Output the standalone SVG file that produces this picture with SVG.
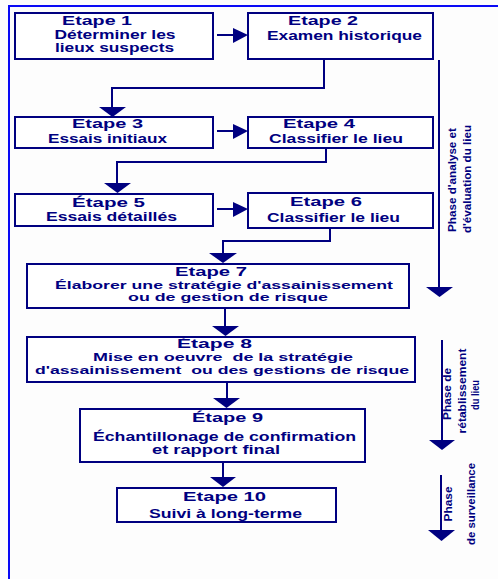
<svg xmlns="http://www.w3.org/2000/svg" width="498" height="579" viewBox="0 0 498 579">
<style>
.box{fill:#ffffff;stroke:#000080;stroke-width:2}
.ln{fill:none;stroke:#000080;stroke-width:2}
.ah{fill:#000080}
.t{font-family:"Liberation Sans",Arial,sans-serif;font-weight:bold;font-size:12px;fill:#000080;text-anchor:middle}
.s{font-size:11.5px}
.p{font-family:"Liberation Sans",Arial,sans-serif;font-weight:bold;font-size:11px;fill:#000080;text-anchor:middle}
</style>
<rect width="498" height="579" fill="#fdfdfd"/>
<g id="frame"><path d="M9,579 V6 H498" fill="none" stroke="#0a0af5" stroke-width="2"/></g>
<g id="connectors">
<path class="ln" d="M217,35 H236"/><polygon class="ah" points="233,28 248,35 233,43"/>
<path class="ln" d="M217,131 H236"/><polygon class="ah" points="233,124 248,131 233,139"/>
<path class="ln" d="M217,209 H236"/><polygon class="ah" points="233,202 248,209 233,217"/>
<path class="ln" d="M324,60 V88 H112 V108"/><polygon class="ah" points="99,107 126,107 112.5,117"/>
<path class="ln" d="M326,149 V162 H117 V184"/><polygon class="ah" points="104,183 131,183 117.5,193"/>
<path class="ln" d="M330,229 V241 H223 V254"/><polygon class="ah" points="209,253 237,253 223,263"/>
<path class="ln" d="M225,309 V327"/><polygon class="ah" points="212,326 239,326 225.5,336"/>
<path class="ln" d="M227,383 V399"/><polygon class="ah" points="213,398 240,398 226.5,408"/>
<path class="ln" d="M223,463 V478"/><polygon class="ah" points="210,477 236,477 223,487"/>
<path class="ln" d="M439,60 V288"/><polygon class="ah" points="426,287 453,287 439.5,297"/>
<path class="ln" d="M442,340 V441"/><polygon class="ah" points="429,440 455,440 442,450"/>
<path class="ln" d="M441,475 V531"/><polygon class="ah" points="428,530 455,530 441.5,541"/>
</g>
<g id="n1"><rect class="box" x="15" y="13" width="198" height="46"/>
<text class="t" x="97" y="25" textLength="70" lengthAdjust="spacingAndGlyphs">Etape 1</text>
<text class="t" x="115" y="39" textLength="121" lengthAdjust="spacingAndGlyphs">Déterminer les</text>
<text class="t" x="114.5" y="52" textLength="119" lengthAdjust="spacingAndGlyphs">lieux suspects</text></g>
<g id="n2"><rect class="box" x="248" y="13" width="185" height="46"/>
<text class="t" x="323" y="25" textLength="70" lengthAdjust="spacingAndGlyphs">Etape 2</text>
<text class="t" x="344.5" y="40" textLength="155" lengthAdjust="spacingAndGlyphs">Examen historique</text></g>
<g id="n3"><rect class="box" x="15" y="117" width="198" height="31"/>
<text class="t" x="107.5" y="128" textLength="71" lengthAdjust="spacingAndGlyphs">Etape 3</text>
<text class="t" x="107.5" y="143" textLength="119" lengthAdjust="spacingAndGlyphs">Essais initiaux</text></g>
<g id="n4"><rect class="box" x="248" y="117" width="185" height="31"/>
<text class="t" x="319" y="128" textLength="72" lengthAdjust="spacingAndGlyphs">Etape 4</text>
<text class="t" x="336" y="143" textLength="134" lengthAdjust="spacingAndGlyphs">Classifier le lieu</text></g>
<g id="n5"><rect class="box" x="15" y="194" width="198" height="32"/>
<text class="t" x="108.5" y="207" textLength="73" lengthAdjust="spacingAndGlyphs">Étape 5</text>
<text class="t" x="111.5" y="221" textLength="131" lengthAdjust="spacingAndGlyphs">Essais détaillés</text></g>
<g id="n6"><rect class="box" x="248" y="193" width="185" height="35"/>
<text class="t" x="326" y="206" textLength="72" lengthAdjust="spacingAndGlyphs">Etape 6</text>
<text class="t" x="333.5" y="222" textLength="133" lengthAdjust="spacingAndGlyphs">Classifier le lieu</text></g>
<g id="n7"><rect class="box" x="27" y="264" width="382" height="44"/>
<text class="t" x="211" y="276" textLength="72" lengthAdjust="spacingAndGlyphs">Etape 7</text>
<text class="t s" x="224" y="289" textLength="338" lengthAdjust="spacingAndGlyphs">Élaborer une stratégie d'assainissement</text>
<text class="t s" x="228" y="301" textLength="200" lengthAdjust="spacingAndGlyphs">ou de gestion de risque</text></g>
<g id="n8"><rect class="box" x="27" y="337" width="388" height="45"/>
<text class="t" x="214.5" y="348" textLength="75" lengthAdjust="spacingAndGlyphs">Étape 8</text>
<text class="t s" x="223" y="361" textLength="260" lengthAdjust="spacingAndGlyphs" xml:space="preserve">Mise en oeuvre  de la stratégie</text>
<text class="t s" x="222" y="374" textLength="374" lengthAdjust="spacingAndGlyphs" xml:space="preserve">d'assainissement  ou des gestions de risque</text></g>
<g id="n9"><rect class="box" x="80" y="409" width="285" height="53"/>
<text class="t" x="227.5" y="422" textLength="71" lengthAdjust="spacingAndGlyphs">Étape 9</text>
<text class="t" x="224.5" y="441" textLength="263" lengthAdjust="spacingAndGlyphs">Échantillonage de confirmation</text>
<text class="t" x="216" y="454" textLength="128" lengthAdjust="spacingAndGlyphs">et rapport final</text></g>
<g id="n10"><rect class="box" x="117" y="488" width="219" height="34"/>
<text class="t" x="224.5" y="501" textLength="83" lengthAdjust="spacingAndGlyphs">Etape 10</text>
<text class="t" x="225.5" y="518" textLength="153" lengthAdjust="spacingAndGlyphs">Suivi à long-terme</text></g>
<g id="phase1">
<text class="p" transform="translate(456,180) rotate(-90)" textLength="104" lengthAdjust="spacingAndGlyphs">Phase d'analyse et</text>
<text class="p" transform="translate(471,179) rotate(-90)" textLength="108" lengthAdjust="spacingAndGlyphs">d'évaluation du lieu</text></g>
<g id="phase2">
<text class="p" transform="translate(451,394) rotate(-90)" textLength="52" lengthAdjust="spacingAndGlyphs">Phase de</text>
<text class="p" transform="translate(466,391) rotate(-90)" textLength="85" lengthAdjust="spacingAndGlyphs">rétablissement</text>
<text class="p" transform="translate(479,395) rotate(-90)" textLength="30" lengthAdjust="spacingAndGlyphs">du lieu</text></g>
<g id="phase3">
<text class="p" transform="translate(452,504) rotate(-90)" textLength="35" lengthAdjust="spacingAndGlyphs">Phase</text>
<text class="p" transform="translate(475,504) rotate(-90)" textLength="82" lengthAdjust="spacingAndGlyphs">de surveillance</text></g>
</svg>
